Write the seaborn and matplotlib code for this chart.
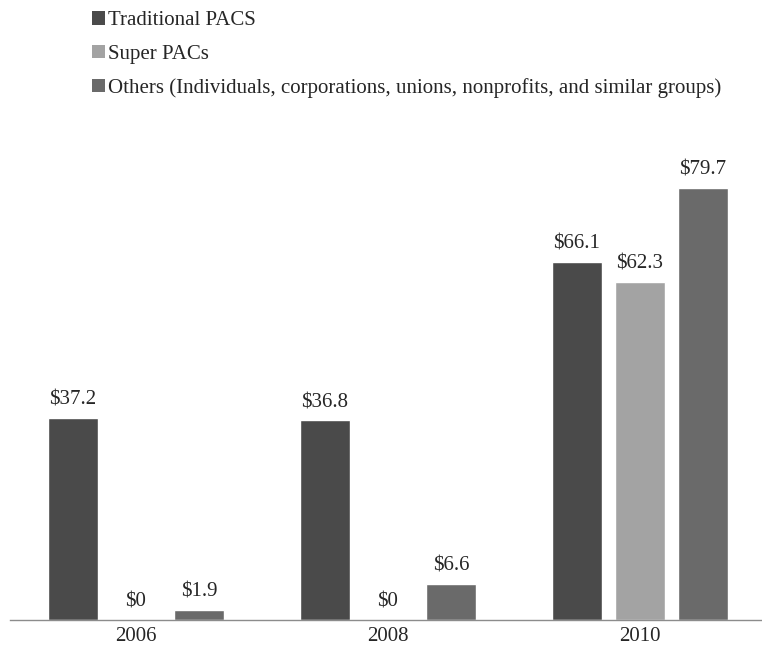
import matplotlib
matplotlib.use("Agg")
import matplotlib.pyplot as plt
import seaborn as sns
import pandas as pd
from matplotlib.patches import Patch

years = ["2006", "2008", "2010"]
series = ["Traditional PACS", "Super PACs",
          "Others (Individuals, corporations, unions, nonprofits, and similar groups)"]
traditional = [37.2, 36.8, 66.1]
super_pacs = [0.0, 0.0, 62.3]
others = [1.9, 6.6, 79.7]
colors = ["#4a4a4a", "#a3a3a3", "#6a6a6a"]

df = pd.DataFrame({
    "year": years * 3,
    "series": [series[0]] * 3 + [series[1]] * 3 + [series[2]] * 3,
    "value": traditional + super_pacs + others,
})

sns.set_style("white")
plt.rcParams["font.family"] = ["Liberation Serif", "DejaVu Serif"]

fig = plt.figure(figsize=(7.62, 6.52), dpi=100)
ax = fig.add_axes([10 / 762, 32 / 652, 756 / 762, 488 / 652])

sns.barplot(data=df, x="year", y="value", hue="series", order=years,
            hue_order=series, palette=colors, width=0.75, gap=0.2,
            legend=False, ax=ax, errorbar=None)

ax.set_ylim(0, 90)
ax.set_xlim(-0.5, 2.5)
for c in ax.containers:
    ax.bar_label(c, labels=[f"${v:g}" for v in c.datavalues], padding=6,
                 fontsize=15)

ax.set_xlabel("")
ax.set_ylabel("")
ax.set_yticks([])
ax.tick_params(axis="x", length=0, labelsize=15, pad=5)
for s in ["top", "left", "right"]:
    ax.spines[s].set_visible(False)
ax.spines["bottom"].set_color("#8c8c8c")
ax.spines["bottom"].set_linewidth(1.0)

handles = [Patch(facecolor=c, edgecolor="none") for c in colors]
fig.legend(handles, series, loc="upper left", bbox_to_anchor=(84 / 762, 1 - 3 / 652),
           frameon=False, fontsize=15, handlelength=0.6, handleheight=0.6,
           handletextpad=0.15, labelspacing=0.68, borderaxespad=0)

fig.savefig("out.png", dpi=100)
